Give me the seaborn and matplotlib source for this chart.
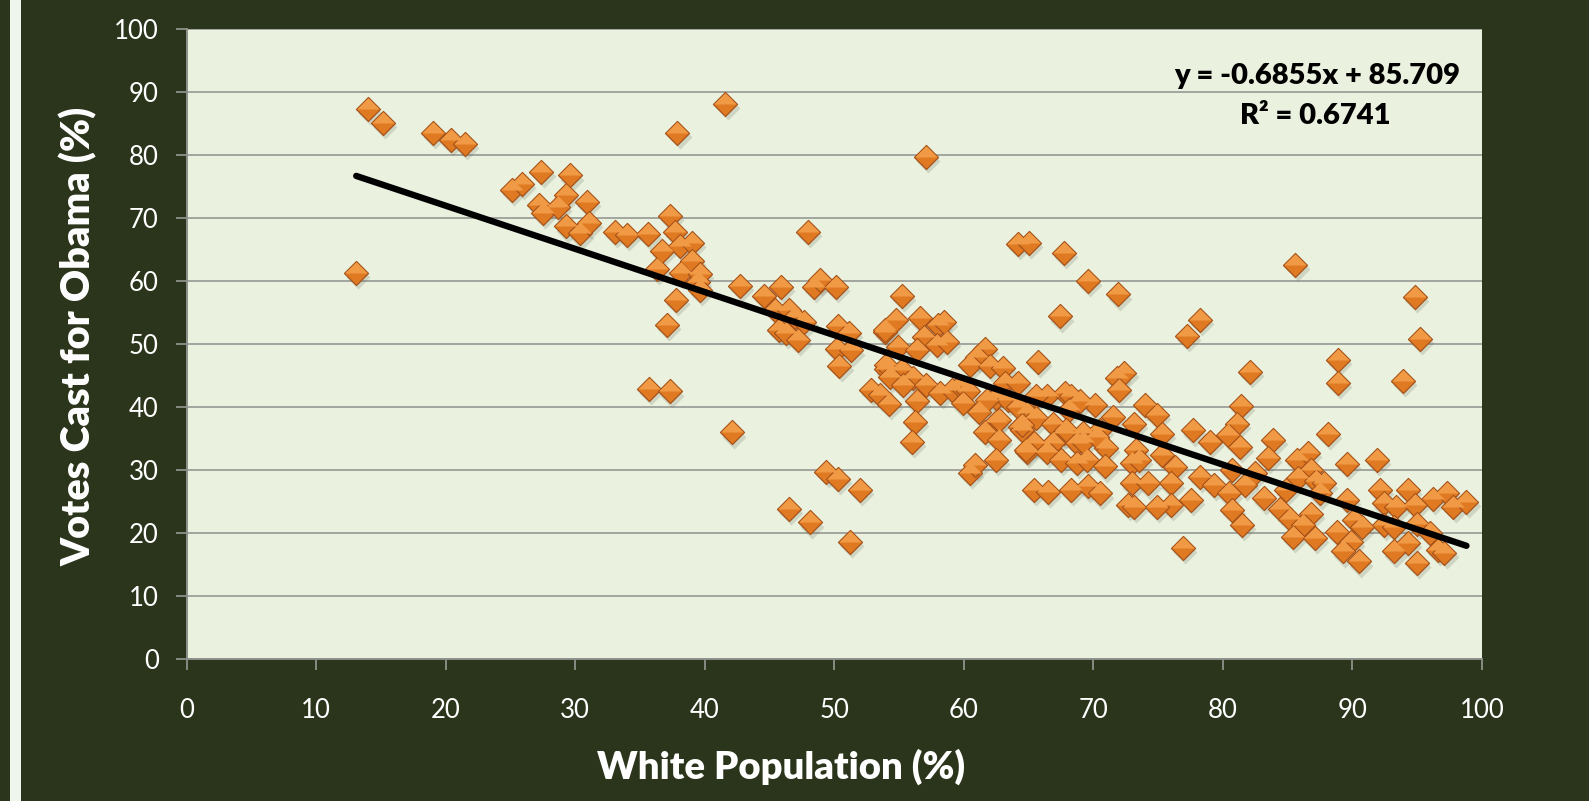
import numpy as np
import matplotlib
matplotlib.use("Agg")
import matplotlib.pyplot as plt
import matplotlib.transforms as mtransforms
from matplotlib.patches import Rectangle
from matplotlib.path import Path
import pandas as pd
import seaborn as sns

# white population (%) per district
white_pct = [
    13.1, 14.0, 15.2, 19.0, 20.4, 21.5, 25.1, 25.9, 27.2, 27.4, 27.5, 28.7, 29.3, 29.6,
    29.3, 30.4, 30.9, 31.1, 33.1, 34.0, 35.6, 35.7, 36.3, 36.7, 37.1, 37.3, 37.3, 37.7,
    37.8, 37.9, 38.1, 38.2, 39.0, 39.0, 39.5, 39.6, 39.6, 41.6, 42.1, 42.7, 44.6, 45.4,
    45.7, 45.9, 46.3, 46.5, 46.5, 47.0, 47.2, 47.7, 48.0, 48.1, 48.4, 48.9, 49.4, 50.1,
    50.2, 50.3, 50.3, 50.4, 51.1, 51.2, 51.3, 52.0, 52.8, 53.5, 53.9, 53.9, 54.0, 54.2,
    57.1,
    55.2, 54.8, 56.6, 58.0, 56.9, 57.9, 58.7, 54.9, 56.4, 61.6, 61.0, 60.5, 62.0, 63.0,
    65.7, 54.0, 55.2, 56.1, 54.3, 55.3, 57.1, 58.2, 59.1, 59.7, 60.3, 59.9, 56.4, 61.2,
    56.2, 56.0, 63.2, 64.2, 62.5, 63.4, 61.8, 62.5, 61.6, 62.7, 64.9, 64.3, 65.6, 66.9,
    66.4, 67.8, 68.3, 68.1, 67.7, 66.9, 65.4, 64.9, 66.4, 68.7, 69.2, 70.1, 71.5, 70.5,
    71.0, 67.5, 68.7, 69.5, 62.5, 60.5, 60.9, 70.9, 71.8, 72.4, 72.0, 73.1, 73.0, 73.0,
    72.7, 65.4, 66.5, 68.3, 69.6, 70.5, 64.5, 64.2, 65.0, 67.7, 69.6, 71.9, 67.4, 65.6,
    69.0, 64.2, 64.5, 67.9, 69.2, 70.3, 62.7, 64.8, 58.5,
    85.6, 78.2, 77.2, 82.1, 74.0, 74.9, 81.4, 81.1, 80.4, 81.3, 77.7, 79.0, 75.3, 73.3,
    75.3, 73.5, 83.9, 83.5, 76.3, 78.2, 79.3, 76.0, 74.2, 77.5, 76.0, 74.9, 73.1, 80.7,
    81.7, 80.5, 80.7, 81.5, 76.9, 82.5, 83.2, 84.4, 85.2, 85.7, 86.6, 86.8, 85.8, 87.2,
    86.8, 86.2, 85.4, 87.1, 88.1, 84.9,
    94.8, 95.2, 88.9, 88.9, 93.9, 89.6, 91.9, 92.1, 94.3, 96.2, 97.3, 97.8, 98.8, 92.4,
    93.4, 94.8, 89.6, 90.1, 90.7, 92.4, 93.2, 95.0, 96.0, 88.8, 89.9, 89.3, 90.5, 93.2,
    94.3, 95.0, 96.6, 97.1, 87.5, 87.8,
]

# votes cast for Obama (%)
obama_pct = [
    61.3, 87.4, 85.2, 83.6, 82.4, 81.8, 74.5, 75.5, 72.1, 77.4, 70.8, 71.8, 73.7, 76.8,
    68.7, 67.6, 72.6, 69.2, 67.9, 67.4, 67.5, 42.9, 62.0, 64.8, 53.0, 70.4, 42.5, 67.8,
    57.0, 83.5, 65.6, 61.3, 66.1, 63.2, 59.9, 61.2, 58.6, 88.2, 36.0, 59.3, 57.7, 55.4,
    52.3, 59.1, 51.8, 55.4, 23.8, 54.3, 50.7, 53.5, 67.8, 21.7, 59.1, 60.2, 29.7, 59.1,
    49.2, 52.9, 28.6, 46.6, 51.8, 18.6, 49.0, 26.8, 42.7, 41.9, 51.9, 52.3, 46.0, 40.5,
    79.8,
    57.7, 53.8, 54.1, 53.0, 51.2, 49.9, 50.4, 49.6, 49.1, 49.3, 48.0, 46.7, 46.5, 46.2,
    47.2, 46.7, 45.9, 44.6, 44.8, 43.5, 43.5, 42.2, 42.7, 43.3, 42.5, 40.6, 40.9, 39.3,
    37.7, 34.5, 43.8, 43.8, 41.4, 41.1, 41.1, 37.7, 36.1, 34.8, 39.0, 36.9, 38.2, 37.4,
    41.7, 42.2, 41.7, 39.5, 35.9, 34.3, 34.3, 32.9, 32.9, 34.3, 35.9, 40.4, 38.5, 36.4,
    33.5, 31.6, 31.1, 31.6, 31.6, 29.5, 30.8, 30.6, 44.6, 45.4, 42.7, 37.4, 31.1, 27.9,
    24.5, 26.8, 26.6, 26.8, 27.4, 26.3, 36.4, 65.9, 66.1, 64.5, 60.1, 57.9, 54.4, 41.7,
    40.9, 40.1, 37.2, 36.4, 34.5, 35.3, 38.0, 33.2, 53.6,
    62.6, 53.8, 51.3, 45.6, 40.3, 38.8, 40.2, 37.4, 35.6, 33.7, 36.3, 34.5, 35.8, 33.2,
    32.4, 31.6, 34.8, 31.9, 30.5, 28.9, 27.6, 27.9, 27.9, 25.3, 24.5, 24.2, 24.2, 30.0,
    27.6, 26.3, 23.7, 21.3, 17.6, 29.5, 25.5, 23.9, 22.3, 31.6, 32.7, 30.0, 28.7, 28.2,
    23.1, 21.3, 19.4, 19.2, 35.8, 26.8,
    57.5, 50.9, 47.5, 43.8, 44.2, 31.0, 31.6, 26.8, 26.8, 25.4, 26.3, 24.2, 25.0, 24.7,
    24.2, 24.5, 25.3, 22.1, 21.0, 21.3, 21.0, 21.5, 20.0, 20.2, 18.6, 17.1, 15.5, 17.1,
    18.4, 15.2, 17.3, 16.8, 26.3, 27.9,
]

# trendline as printed on the chart
slope = -0.6855
intercept = 85.709
r_squared = 0.6741

x_ticks = [0, 10, 20, 30, 40, 50, 60, 70, 80, 90, 100]
y_ticks = [0, 10, 20, 30, 40, 50, 60, 70, 80, 90, 100]

df = pd.DataFrame({"white": white_pct, "obama": obama_pct})
line_x = np.array([df.white.min(), df.white.max()])
trend = pd.DataFrame({"white": line_x, "obama": slope * line_x + intercept})

bg = "#2b351c"
panel = "#eaf1de"
grid_col = "#a3a59f"
msize = 150

sns.set_theme(style="white")
plt.rcParams["font.family"] = ["Lato", "DejaVu Sans"]

fig = plt.figure(figsize=(15.89, 8.01), dpi=100, facecolor=bg)
ax = fig.add_axes([186.5 / 1589, 1 - 659 / 801, (1482 - 186.5) / 1589, (659 - 29.4) / 801])
ax.set_facecolor(panel)

# thin light strip at the left edge of the slide
fig.patches.append(Rectangle((10 / 1589, 0), 11 / 1589, 1, transform=fig.transFigure,
                             facecolor="#eef6ee", edgecolor="none", zorder=0))

for yv in y_ticks[1:]:
    ax.axhline(yv, color=grid_col, lw=1.4, zorder=1)

# drop shadows of the markers
shadow = ax.transData + mtransforms.ScaledTranslation(1.5 / 72, -3 / 72, fig.dpi_scale_trans)
ax.scatter(df.white, df.obama, marker="D", s=msize, color="#6f7466", alpha=0.22,
           linewidths=0, transform=shadow, zorder=2)

sns.scatterplot(data=df, x="white", y="obama", marker="D", s=msize, color="#e07a22",
                edgecolor="#a5531a", linewidth=0.9, ax=ax, zorder=3)
# lighter upper facets of the pyramid-like marker
top_half = Path([(-1, 0), (0, 1), (1, 0), (-1, 0)], closed=True)
ax.scatter(df.white, df.obama, marker=top_half, s=msize * 1.75, color="#f19a45",
           linewidths=0, zorder=4)

sns.lineplot(data=trend, x="white", y="obama", color="black", lw=4.6,
             solid_capstyle="round", ax=ax, zorder=5)

ax.set_xlim(0, 100)
ax.set_ylim(0, 100)
ax.set_xticks(x_ticks)
ax.set_yticks(y_ticks)
ax.set_xlabel("")
ax.set_ylabel("")
for side in ["top", "right"]:
    ax.spines[side].set_visible(False)
for side in ["left", "bottom"]:
    ax.spines[side].set_color("#8e918a")
    ax.spines[side].set_linewidth(1.4)
ax.tick_params(axis="both", direction="out", length=8, width=1.3, color="#8e918a",
               labelcolor="white", labelsize=18.5)
ax.tick_params(axis="x", pad=20, bottom=True)
ax.tick_params(axis="y", pad=12, left=True)

ax.text(0.8726, 0.926, f"y = {slope}x + {intercept}", transform=ax.transAxes,
        ha="center", va="center", fontsize=21, fontweight="heavy", color="black")
ax.text(0.8710, 0.862, f"R\u00b2 = {r_squared}", transform=ax.transAxes,
        ha="center", va="center", fontsize=21, fontweight="heavy", color="black")

fig.text(781 / 1589, 1 - 767 / 801, "White Population (%)", ha="center", va="center",
         fontsize=27.5, fontweight="heavy", color="white")
fig.text(79 / 1589, 1 - 336 / 801, "Votes Cast for Obama (%)", ha="center", va="center",
         rotation=90, fontsize=28.5, fontweight="heavy", color="white")

fig.savefig("out.png", dpi=100, facecolor=bg)
